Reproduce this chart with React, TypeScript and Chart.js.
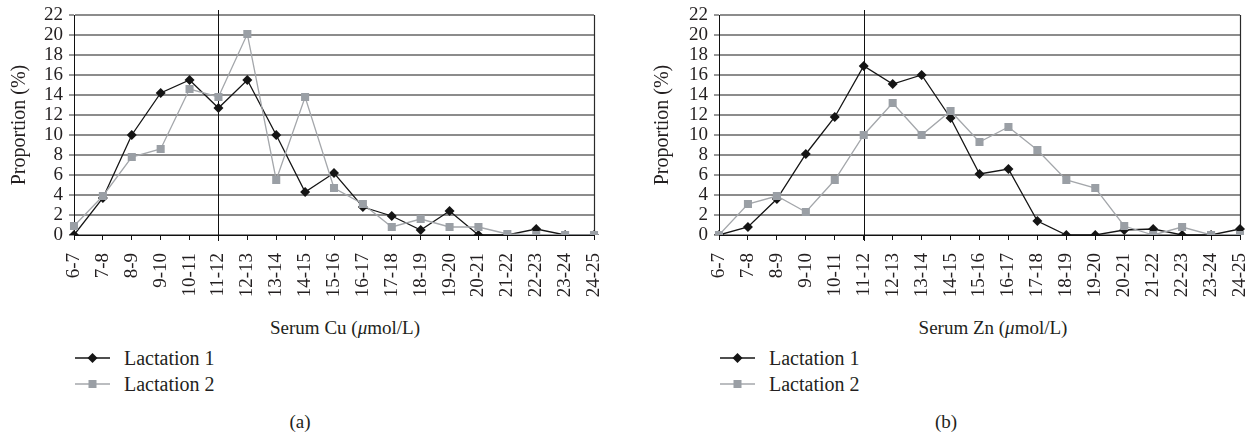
import React, { useEffect, useRef } from "react";
import { Chart, registerables } from "chart.js";

Chart.register(...registerables);

const categories = [
  "6-7", "7-8", "8-9", "9-10", "10-11", "11-12", "12-13", "13-14", "14-15", "15-16",
  "16-17", "17-18", "18-19", "19-20", "20-21", "21-22", "22-23", "23-24", "24-25",
];
const yTickMin = 0;
const yTickMax = 22;
const yTickStep = 2;
const referenceCategory = "11-12";

const cuLactation1 = [0, 3.7, 10, 14.2, 15.5, 12.7, 15.5, 10, 4.3, 6.2, 2.8, 1.9, 0.5, 2.4, 0, 0, 0.6, 0, 0];
const cuLactation2 = [0.9, 3.9, 7.8, 8.6, 14.6, 13.8, 20.1, 5.5, 13.8, 4.7, 3.1, 0.8, 1.6, 0.8, 0.8, 0.1, 0, 0, 0];
const znLactation1 = [0, 0.8, 3.6, 8.1, 11.8, 16.9, 15.1, 16, 11.7, 6.1, 6.6, 1.4, 0, 0, 0.5, 0.6, 0, 0, 0.6];
const znLactation2 = [0, 3.1, 3.9, 2.3, 5.5, 10, 13.2, 10, 12.4, 9.3, 10.8, 8.5, 5.5, 4.7, 0.9, 0, 0.8, 0, 0];

const seriesNames = ["Lactation 1", "Lactation 2"];

const FONT = "'Liberation Serif', 'Times New Roman', serif";
const TEXT = "#231f20";
const BLACK = "#151515";
const GRAY_LINE = "#a4a7ab";
const GRAY_MARK = "#9a9fa5";

const refLinePlugin = {
  id: "refLine",
  beforeDatasetsDraw(chart: any) {
    const { ctx, chartArea, scales } = chart;
    const idx = categories.indexOf(referenceCategory);
    const x = Math.round(scales.x.getPixelForValue(idx)) + 0.5;
    ctx.save();
    ctx.strokeStyle = "#111";
    ctx.lineWidth = 1;
    ctx.beginPath();
    ctx.moveTo(x, chartArea.top - 5);
    ctx.lineTo(x, chartArea.bottom + 6);
    ctx.stroke();
    const xr = Math.round(chartArea.right) + 0.5;
    ctx.strokeStyle = "#2a2a2a";
    ctx.lineWidth = 1.2;
    ctx.beginPath();
    ctx.moveTo(xr, chartArea.top);
    ctx.lineTo(xr, chartArea.bottom);
    ctx.stroke();
    ctx.restore();
  },
};

type PanelProps = {
  left: number;
  width: number;
  padRight: number;
  yTitlePad: number;
  s1: number[];
  s2: number[];
};

function PanelChart(p: PanelProps) {
  const ref = useRef<HTMLCanvasElement | null>(null);
  useEffect(() => {
    if (!ref.current) return;
    const chart = new Chart(ref.current, {
      type: "line",
      data: {
        labels: categories,
        datasets: [
          {
            label: seriesNames[0],
            data: p.s1,
            borderColor: BLACK,
            backgroundColor: BLACK,
            borderWidth: 1.3,
            pointStyle: "rectRot",
            pointRadius: 5,
            pointBorderWidth: 0,
            pointBackgroundColor: BLACK,
            tension: 0,
            order: 1,
          },
          {
            label: seriesNames[1],
            data: p.s2,
            borderColor: GRAY_LINE,
            backgroundColor: GRAY_MARK,
            borderWidth: 1.3,
            pointStyle: "rect",
            pointRadius: 5.7,
            pointBorderWidth: 0,
            pointBackgroundColor: GRAY_MARK,
            tension: 0,
            order: 0,
          },
        ],
      },
      options: {
        responsive: false,
        animation: false,
        events: [],
        layout: { padding: { left: 0, right: p.padRight, top: 15, bottom: 0 } },
        plugins: { legend: { display: false }, tooltip: { enabled: false } },
        scales: {
          x: {
            type: "category",
            offset: false,
            grid: { drawOnChartArea: false, drawTicks: true, tickLength: 5, color: "#111", lineWidth: 1 },
            border: { color: "#111", width: 1 },
            ticks: {
              autoSkip: false,
              minRotation: 90,
              maxRotation: 90,
              padding: 13,
              color: TEXT,
              font: { family: FONT, size: 19 },
            },
            afterFit: (s: any) => {
              s.height = 75;
              s.paddingLeft = 0;
              s.paddingRight = 0;
            },
          },
          y: {
            min: yTickMin,
            max: yTickMax,
            ticks: {
              stepSize: yTickStep,
              autoSkip: false,
              padding: 6,
              color: TEXT,
              font: { family: FONT, size: 19 },
            },
            grid: { color: "#8c8c8c", lineWidth: 2, tickLength: 5, tickColor: "#333", tickWidth: 1 },
            border: { color: "#111", width: 1 },
            title: {
              display: true,
              text: "Proportion (%)",
              color: TEXT,
              font: { family: FONT, size: 20 },
              padding: { top: p.yTitlePad, bottom: 0 },
            },
            afterFit: (s: any) => {
              s.width = 74;
              s.paddingTop = 0;
              s.paddingBottom = 0;
            },
          },
        },
      } as any,
      plugins: [refLinePlugin],
    });
    return () => chart.destroy();
  }, []);
  return (
    <canvas
      ref={ref}
      width={p.width}
      height={310}
      style={{ position: "absolute", left: p.left, top: 0, width: p.width, height: 310 }}
    />
  );
}

function LegendMarker({ kind }: { kind: "diamond" | "square" }) {
  const color = kind === "diamond" ? BLACK : GRAY_MARK;
  const line = kind === "diamond" ? BLACK : GRAY_LINE;
  return (
    <svg width={36} height={14} style={{ display: "block" }}>
      <line x1={0} y1={7} x2={35} y2={7} stroke={line} strokeWidth={1.4} />
      {kind === "diamond" ? (
        <polygon points="17.5,2 22.5,7 17.5,12 12.5,7" fill={color} />
      ) : (
        <rect x={13.5} y={3} width={8} height={8} fill={color} />
      )}
    </svg>
  );
}

function Legend({ x, textX }: { x: number; textX: number }) {
  const rows: { y: number; kind: "diamond" | "square"; name: string }[] = [
    { y: 358, kind: "diamond", name: seriesNames[0] },
    { y: 384, kind: "square", name: seriesNames[1] },
  ];
  return (
    <>
      {rows.map((r) => (
        <React.Fragment key={r.name}>
          <div style={{ position: "absolute", left: x, top: r.y - 7 }}>
            <LegendMarker kind={r.kind} />
          </div>
          <div
            style={{
              position: "absolute",
              left: textX,
              top: r.y - 12,
              height: 24,
              lineHeight: "24px",
              fontFamily: FONT,
              fontSize: 20,
              color: TEXT,
              whiteSpace: "nowrap",
            }}
          >
            {r.name}
          </div>
        </React.Fragment>
      ))}
    </>
  );
}

function CenterText({ cx, cy, size, children }: { cx: number; cy: number; size: number; children: React.ReactNode }) {
  return (
    <div
      style={{
        position: "absolute",
        left: cx,
        top: cy - 12,
        height: 24,
        lineHeight: "24px",
        transform: "translateX(-50%)",
        fontFamily: FONT,
        fontSize: size,
        color: TEXT,
        whiteSpace: "nowrap",
      }}
    >
      {children}
    </div>
  );
}

export default function App() {
  return (
    <div
      style={{
        position: "absolute",
        left: 0,
        top: 0,
        width: 1251,
        height: 435,
        background: "#fff",
        overflow: "hidden",
      }}
    >
      <PanelChart left={0} width={625} padRight={31} yTitlePad={8} s1={cuLactation1} s2={cuLactation2} />
      <PanelChart left={645} width={606} padRight={11} yTitlePad={6} s1={znLactation1} s2={znLactation2} />
      <CenterText cx={345} cy={328} size={19}>
        Serum Cu (<i>μ</i>mol/L)
      </CenterText>
      <CenterText cx={993} cy={328} size={19}>
        Serum Zn (<i>μ</i>mol/L)
      </CenterText>
      <Legend x={75} textX={124} />
      <Legend x={720} textX={769} />
      <CenterText cx={300} cy={422} size={19}>
        (a)
      </CenterText>
      <CenterText cx={946} cy={422} size={19}>
        (b)
      </CenterText>
    </div>
  );
}
